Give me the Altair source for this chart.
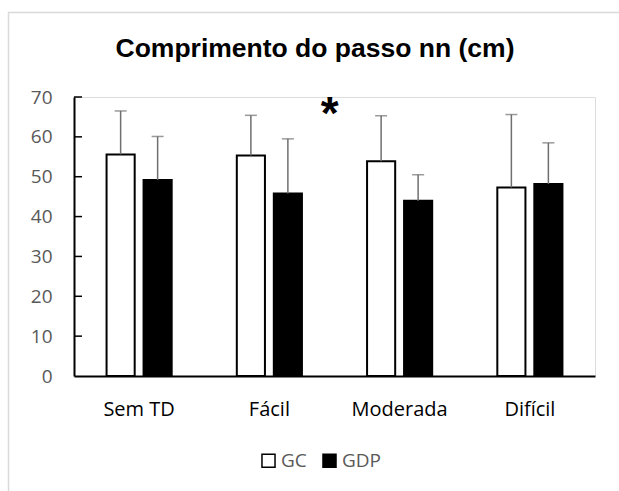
import altair as alt
import pandas as pd

categories = ["Sem TD", "Fácil", "Moderada", "Difícil"]
groups = ["GC", "GDP"]
gc_mean = [55.6, 55.3, 53.9, 47.3]
gc_upper = [66.5, 65.4, 65.3, 65.6]
gdp_mean = [49.2, 45.8, 44.0, 48.2]
gdp_upper = [60.1, 59.5, 50.5, 58.5]
y_labels = [0, 10, 20, 30, 40, 50, 60, 70]
y_ticks = [10, 20, 30, 40, 50, 60, 70]
star_category = ["Moderada"]
star_value = [67.5]
title_text = "Comprimento do passo nn (cm)"

rows = []
for i, c in enumerate(categories):
    rows.append({"cat": c, "grp": "GC", "mean": gc_mean[i], "upper": gc_upper[i]})
    rows.append({"cat": c, "grp": "GDP", "mean": gdp_mean[i], "upper": gdp_upper[i]})
df = pd.DataFrame(rows)

W, H = 521, 279
GRAY = "#595959"
FONT = "Open Sans"
yscale = alt.Scale(domain=[0, 70], nice=False)
xscale = alt.Scale(paddingInner=0, paddingOuter=0)

xaxis = alt.Axis(title=None, labelAngle=0, ticks=False, domainColor="black",
                 domainWidth=2, labelColor="black", labelFont=FONT,
                 labelFontSize=20, labelPadding=23)
yaxis = alt.Axis(title=None, values=y_labels, ticks=False, tickCount=8,
                 grid=False, domainColor="black", domainWidth=2,
                 labelColor=GRAY, labelFont=FONT, labelFontSize=19,
                 labelPadding=22, labelOverlap=False)


def X():
    return alt.X("cat:N", sort=categories, scale=xscale, axis=xaxis)


def Y(field):
    return alt.Y(field, scale=yscale, axis=yaxis)


xo = alt.XOffset("grp:N", sort=groups,
                 scale=alt.Scale(paddingInner=0.24, paddingOuter=0.88))

base = alt.Chart(df)

bars = base.mark_bar(stroke="black", strokeWidth=2).encode(
    x=X(), xOffset=xo, y=Y("mean:Q"),
    fill=alt.Fill("grp:N", sort=groups,
                  scale=alt.Scale(domain=groups, range=["white", "black"]),
                  legend=alt.Legend(title=None, orient="none", direction="horizontal",
                                    legendX=185, legendY=354, symbolType="square",
                                    symbolSize=170, symbolStrokeColor="black",
                                    symbolStrokeWidth=1.5, labelColor=GRAY,
                                    labelFont=FONT, labelFontSize=19,
                                    labelOffset=3, columnPadding=12)),
)

err = base.mark_rule(color="#6f6f6f", strokeWidth=1.5).encode(
    x=X(), xOffset=xo, y=Y("mean:Q"), y2="upper:Q",
)
caps = base.mark_tick(color="#6f6f6f", thickness=1.5, size=12, orient="horizontal").encode(
    x=X(), xOffset=xo, y=Y("upper:Q"),
)

ticks_df = pd.DataFrame({"v": y_ticks})
inner_ticks = alt.Chart(ticks_df).mark_rule(color="black", strokeWidth=1.5).encode(
    y=Y("v:Q"), x=alt.value(0), x2=alt.value(8)
)

star_df = pd.DataFrame({"cat": star_category, "v": star_value, "t": ["*"]})
star = alt.Chart(star_df).mark_text(font="Liberation Sans", fontWeight="bold",
                                    fontSize=46, dx=-70, dy=8, color="black").encode(
    x=X(), y=Y("v:Q"), text="t:N"
)

title_df = pd.DataFrame({"t": [title_text]})
title = alt.Chart(title_df).mark_text(font="Liberation Sans", fontWeight="bold",
                                      fontSize=26.5, color="black", align="center",
                                      baseline="alphabetic").encode(
    x=alt.value(241), y=alt.value(-40), text="t:N"
)

frame_top = alt.Chart(ticks_df.head(1)).mark_rule(color="#d9d9d9", strokeWidth=1.5).encode(
    x=alt.value(-66), x2=alt.value(560), y=alt.value(-84.5)
)
frame_left = alt.Chart(ticks_df.head(1)).mark_rule(color="#d9d9d9", strokeWidth=1.5).encode(
    x=alt.value(-65.5), y=alt.value(-84.5), y2=alt.value(420)
)

chart = alt.layer(bars, frame_top, frame_left, err, caps, inner_ticks, star, title).properties(
    width=W, height=H,
    padding={"left": 74, "top": 97, "right": 24, "bottom": 115},
    autosize=alt.AutoSizeParams(type="none"),
).configure_view(stroke=None).configure(background="white")

chart.save("out.html", embed_options={"renderer": "svg", "actions": False})
